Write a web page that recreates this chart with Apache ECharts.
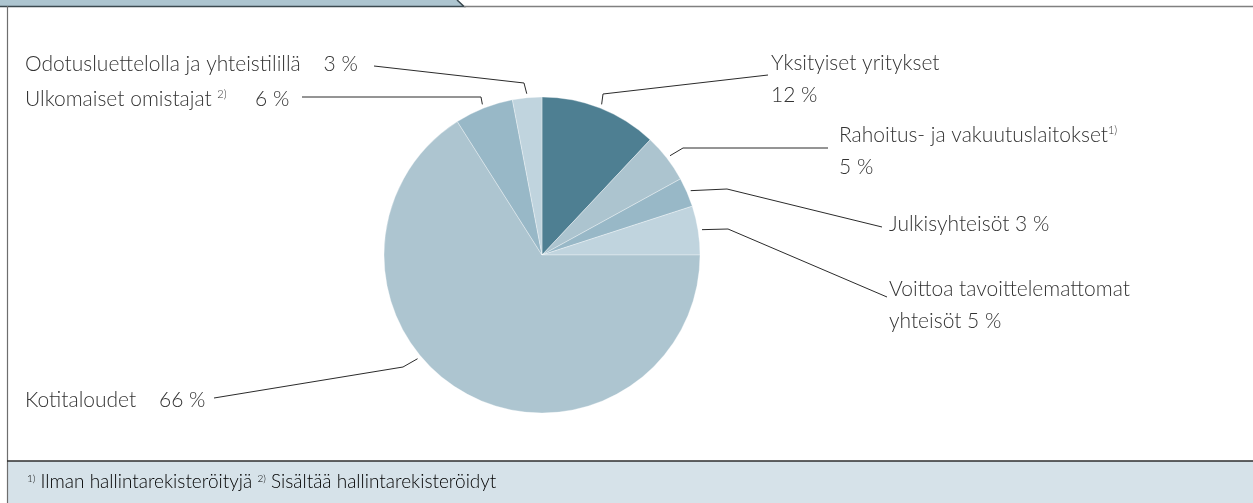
<!DOCTYPE html>
<html>
<head>
<meta charset="utf-8">
<script src="https://cdn.jsdelivr.net/npm/echarts@6/dist/echarts.min.js"></script>
<style>
  html, body { margin: 0; padding: 0; background: #ffffff; }
  #chart { width: 1253px; height: 503px; }
</style>
</head>
<body>
<div id="chart"></div>
<script>
// Shareholder groups, listed clockwise from 12 o'clock
var names = [
  'Yksityiset yritykset',
  'Rahoitus- ja vakuutuslaitokset',
  'Julkisyhteisöt',
  'Voittoa tavoittelemattomat\nyhteisöt',
  'Kotitaloudet',
  'Ulkomaiset omistajat',
  'Odotusluettelolla ja yhteistilillä'
];
var values = [12, 5, 3, 5, 66, 6, 3];          // share, %
var notes = ['', '1)', '', '', '', '2)', ''];  // footnote markers
var footnotes = [
  ['1)', 'Ilman hallintarekisteröityjä'],
  ['2)', 'Sisältää hallintarekisteröidyt']
];

// Styling
var sliceColors = ['#4e7f92', '#acc4cf', '#98b8c7', '#c0d4de', '#adc5d0', '#98b8c7', '#c0d4de'];
var FONT = 'Lato, "Open Sans", sans-serif';
var TEXT = '#333333';
var CX = 542, CY = 255, R = 158;

// Label placement: text block anchor (left / vertical middle), separator before the value,
// elbow and end of the leader line, and where along the slice the leader starts.
var labelLayout = [
  { x: 771, y: 79,  sep: '\n',    noteGap: '',  bend: [603, 94],  end: [768, 75] },
  { x: 839, y: 151, sep: '\n',    noteGap: '',  bend: [683, 148], end: [828, 148] },
  { x: 889, y: 224, sep: ' ',     noteGap: '',  bend: [727, 189], end: [882, 227] },
  { x: 889, y: 305, sep: ' ',     noteGap: '',  bend: [728, 229], end: [887, 297] },
  { x: 25,  y: 400, sep: '    ',  noteGap: '',  bend: [403, 367], end: [214, 398], along: 0.59 },
  { x: 25,  y: 99,  sep: '     ', noteGap: ' ', bend: [481, 97],  end: [302, 97] },
  { x: 25,  y: 64,  sep: '    ',  noteGap: '',  bend: [524, 83],  end: [374, 66] }
];

var total = values.reduce(function (a, b) { return a + b; }, 0);

// Point just outside the rim of slice i, at a fraction along its arc
function rimPoint(i) {
  var before = 0;
  for (var k = 0; k < i; k++) before += values[k];
  var along = labelLayout[i].along != null ? labelLayout[i].along : 0.5;
  var theta = 2 * Math.PI * (before + values[i] * along) / total;
  var rr = R + 4;
  return [CX + rr * Math.sin(theta), CY - rr * Math.cos(theta)];
}

function labelText(i) {
  var L = labelLayout[i];
  var s = '{t|' + names[i] + '}';
  if (notes[i]) s += '{t|' + L.noteGap + '}{s|' + notes[i] + '}';
  var v = '{t|' + values[i] + ' %}';
  if (L.sep === '\n') return s + '\n' + v;
  return s + '{t|' + L.sep + '}' + v;
}

var data = names.map(function (n, i) {
  return { name: n, value: values[i], itemStyle: { color: sliceColors[i] } };
});

var chart = echarts.init(document.getElementById('chart'), null, { renderer: 'canvas' });

chart.setOption({
  animation: false,
  backgroundColor: '#ffffff',
  graphic: [
    // header tab
    { type: 'polygon', shape: { points: [[0, 0], [458, 0], [464, 6.5], [0, 6.5]] },
      style: { fill: '#adc5d0' }, z: 1 },
    { type: 'polyline', shape: { points: [[457, 0], [464, 6.5], [0, 6.5]] },
      style: { stroke: '#3c4a50', lineWidth: 1.5, fill: null }, z: 2 },
    // top rule
    { type: 'line', shape: { x1: 464, y1: 6.5, x2: 1253, y2: 6.5 },
      style: { stroke: '#808080', lineWidth: 1.6 }, z: 2 },
    // left rule
    { type: 'line', shape: { x1: 7.5, y1: 6, x2: 7.5, y2: 503 },
      style: { stroke: '#6e6e6e', lineWidth: 1.2 }, z: 2 },
    // footer band
    { type: 'rect', shape: { x: 8, y: 461, width: 1245, height: 42 },
      style: { fill: '#d6e2e9' }, z: 1 },
    { type: 'line', shape: { x1: 7, y1: 461, x2: 1253, y2: 461 },
      style: { stroke: '#2e2e2e', lineWidth: 1.5 }, z: 2 },
    { type: 'text', x: 27, y: 482, z: 3,
      style: {
        text: footnotes.map(function (f) { return '{s|' + f[0] + '}{t| ' + f[1] + '}'; }).join('{t| }'),
        verticalAlign: 'middle', align: 'left',
        rich: {
          t: { fontFamily: FONT, fontWeight: 300, fontSize: 19, color: TEXT, lineHeight: 24 },
          s: { fontFamily: FONT, fontWeight: 300, fontSize: 10, color: TEXT, verticalAlign: 'top', padding: [4, 0, 0, 0] }
        }
      }
    }
  ],
  series: [{
    type: 'pie',
    center: [CX, CY],
    radius: R,
    startAngle: 90,
    clockwise: true,
    data: data,
    itemStyle: { borderColor: 'rgba(255,255,255,0.55)', borderWidth: 0.6 },
    emphasis: { disabled: true },
    label: {
      show: true,
      position: 'outside',
      formatter: function (p) { return labelText(p.dataIndex); },
      rich: {
        t: { fontFamily: FONT, fontWeight: 300, fontSize: 21, color: TEXT, lineHeight: 32 },
        s: { fontFamily: FONT, fontWeight: 300, fontSize: 11, color: TEXT, verticalAlign: 'top', padding: [6, 0, 0, 0] }
      }
    },
    labelLine: {
      show: true,
      smooth: false,
      lineStyle: { color: '#2b2b2b', width: 1 }
    },
    labelLayout: function (p) {
      var i = p.dataIndex;
      var L = labelLayout[i];
      return {
        x: L.x, y: L.y, align: 'left', verticalAlign: 'middle',
        labelLinePoints: [rimPoint(i), L.bend, L.end]
      };
    }
  }]
});
</script>
</body>
</html>
